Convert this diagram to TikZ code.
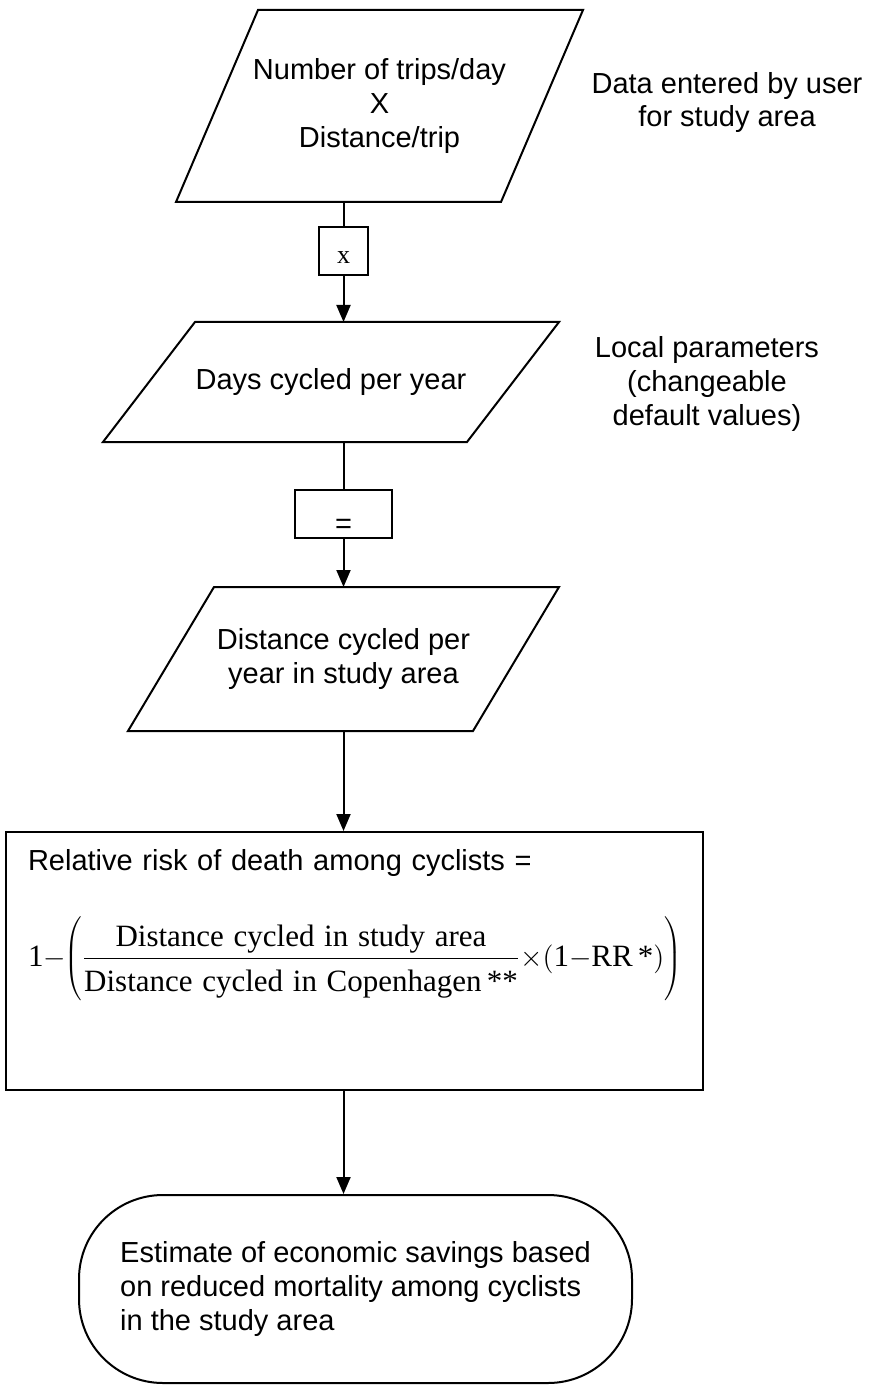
\documentclass[tikz,border=0pt]{standalone}
\usepackage{fontspec}
\setmainfont{Liberation Sans}
\newfontfamily\eqfont{Liberation Serif}
\newfontfamily\fracfont[WordSpace=0.5]{Liberation Serif}
\usetikzlibrary{arrows.meta,positioning}
% parallelogram round a named node: node, slant
\newcommand{\slantbox}[2]{\draw ([xshift=#2]#1.north west) -- (#1.north east) -- ([xshift=-#2]#1.south east) -- (#1.south west) -- cycle;}

\begin{document}
\begin{tikzpicture}
        [x=0.5pt, y=-0.5pt,
        every node/.style={font=\fontsize{14.5}{16.8}\selectfont},
        data/.style={rectangle, inner sep=0pt, outer sep=0pt, align=center},
        op/.style={rectangle, draw, minimum height=24pt, inner sep=0pt, text depth=0pt},
        note/.style={align=center},
        every path/.style={line width=1pt},
        >={Triangle[length=8.5pt, width=7pt]}]
        \useasboundingbox (0,0) rectangle (868,1385);
        \node[data, minimum width=203.5pt, minimum height=96pt] (trips) at (379.5,106) {Number of trips/day\\X\\Distance/trip};
        \node[op, minimum width=24.5pt, text height=13pt, font=\eqfont\fontsize{13}{15}\selectfont] (times) at (343.5,251) {x};
        \node[data, minimum width=228pt, minimum height=60pt] (days) at (331,382) {Days cycled per year};
        \node[op, minimum width=48.5pt, text height=19pt] (equals) at (343.5,514) {=};
        \node[data, minimum width=215.5pt, minimum height=72pt] (dist) at (343.5,659) {Distance cycled per\\year in study area};
        \node[rectangle, draw, minimum width=348.5pt, minimum height=129pt, text width=326.5pt, text height=13pt, text depth=104pt] (risk) at (354.5,961)
            {Relative risk of death among cyclists =\par\vspace{17.5pt}
            {\fracfont\fontsize{15.5}{18}\selectfont
            $\displaystyle\mbox{1}\mathord{-}\mkern-4mu\left(\rule[-18.5pt]{0pt}{45pt}\frac{\mbox{Distance cycled in study area}}{\rule{0pt}{15pt}\mbox{Distance cycled in Copenhagen\,**}}\mathord{\times}\bigl(\mbox{1}\mathord{-}\mbox{RR\,*}\bigr)\right)$}};
        \node[rectangle, draw, rounded corners=42pt, minimum width=276.5pt, minimum height=94pt, align=left] (saving) at (355.5,1289) {Estimate of economic savings based\\on reduced mortality among cyclists\\in the study area};
        \node[note] (user) at (727,102.5) {Data entered by user\\for study area};
        \node[note] (local) at (707,384) {Local parameters\\(changeable\\default values)};
        \slantbox{trips}{41pt}
        \slantbox{days}{46pt}
        \slantbox{dist}{43pt}
        \draw (trips.south -| times) -- (times.north);
        \draw[->] (times) -- (times |- days.north);
        \draw (days.south -| equals) -- (equals.north);
        \draw[->] (equals) -- (equals |- dist.north);
        \draw[->] (dist.south -| times) -- (times |- risk.north);
        \draw[->] (risk.south -| times) -- (times |- saving.north);
    \end{tikzpicture}
\end{document}
